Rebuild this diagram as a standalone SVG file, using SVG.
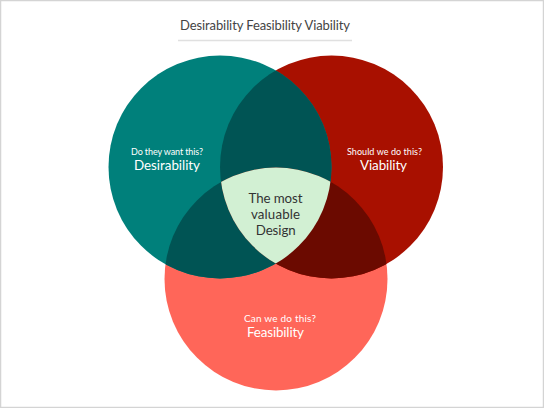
<svg xmlns="http://www.w3.org/2000/svg" width="544" height="408" viewBox="0 0 544 408">
<style>
.t{font-family:"Lato","Open Sans","DejaVu Sans",sans-serif;text-anchor:middle}
.q{font-size:9px;fill:#ffffff}
.n{font-size:13.4px;fill:#ffffff}
.c{font-size:13.3px;fill:#333333}
</style>
<defs>
<circle id="cD" cx="220" cy="167" r="111.5"/>
<circle id="cV" cx="331.5" cy="167" r="111.5"/>
<circle id="cF" cx="276" cy="279" r="111.5"/>
<clipPath id="clipD"><use href="#cD"/></clipPath>
<clipPath id="clipV"><use href="#cV"/></clipPath>
<clipPath id="clipF"><use href="#cF"/></clipPath>
</defs>
<rect x="0.5" y="0.5" width="543" height="407" fill="#ffffff" stroke="#d4d4d4" stroke-width="1.5"/>
<g id="title">
<text class="t" x="265" y="30" font-size="13" fill="#444444" textLength="170">Desirability Feasibility Viability</text>
<line x1="178" y1="40.5" x2="352" y2="40.5" stroke="#e0e0e0" stroke-width="1.5"/>
</g>
<g id="feasibility">
<use href="#cF" fill="#FF6659"/>
<text class="t q" x="280" y="322" font-size="10" style="font-size:10px" textLength="72">Can we do this?</text>
<text class="t n" x="275.5" y="337" textLength="57">Feasibility</text>
</g>
<g id="viability">
<use href="#cV" fill="#A81000"/>
<text class="t q" x="384.5" y="155" textLength="75">Should we do this?</text>
<text class="t n" x="383.5" y="170" textLength="47">Viability</text>
</g>
<g id="desirability">
<use href="#cD" fill="#00807B"/>
<text class="t q" x="167" y="155" textLength="72">Do they want this?</text>
<text class="t n" x="167" y="170" textLength="66">Desirability</text>
</g>
<g id="overlaps">
<g clip-path="url(#clipD)"><use href="#cV" fill="#005454"/><use href="#cF" fill="#005454"/></g>
<g clip-path="url(#clipV)"><use href="#cF" fill="#6B0A00"/></g>
</g>
<g id="center">
<g clip-path="url(#clipD)"><g clip-path="url(#clipV)"><use href="#cF" fill="#D2F0D3"/></g></g>
<text class="t c" x="275.5" y="203" textLength="54">The most</text>
<text class="t c" x="275.5" y="219" textLength="49">valuable</text>
<text class="t c" x="275.7" y="235" textLength="40">Design</text>
</g>
<g id="connectors"></g>
</svg>
